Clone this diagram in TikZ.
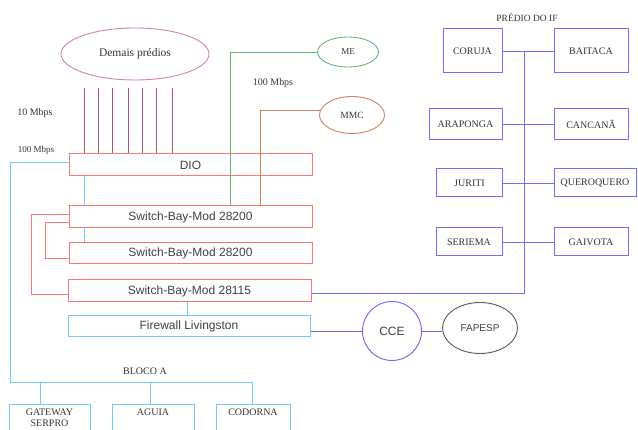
\documentclass[tikz,border=0pt]{standalone}
\usepackage{fontspec}
\setmainfont{Liberation Serif}
\newfontfamily\arialfont{Liberation Sans}
\usetikzlibrary{shapes.geometric}

\definecolor{swred}{RGB}{255,120,120}
\definecolor{lancyan}{RGB}{115,200,255}
\definecolor{ifblue}{RGB}{110,110,255}
\definecolor{megreen}{RGB}{95,185,115}
\definecolor{mmcbrown}{RGB}{210,130,90}
\definecolor{bldpink}{RGB}{215,130,165}
\definecolor{bldpurple}{RGB}{170,85,135}
\definecolor{ccecol}{RGB}{105,105,220}
\definecolor{fapcol}{RGB}{90,90,90}

\tikzset{
  serif/.style={font=\fontsize{10}{11}\selectfont, text=black!80},
  sans/.style={font=\arialfont\fontsize{12}{13}\selectfont, text=black!75},
  bar/.style={draw, line width=1pt, inner sep=0pt, sans},
  redbar/.style={bar, draw=swred, minimum width=243pt, minimum height=22pt},
  cyanbar/.style={bar, draw=lancyan, minimum width=242pt, minimum height=21pt},
  bird/.style={draw=ifblue, line width=1pt, inner sep=0pt, serif},
  bloco/.style={draw=lancyan, line width=1pt, inner sep=0pt, minimum height=45pt},
  wire/.style={line width=0.9pt},
}

\begin{document}
\begin{tikzpicture}[x=1pt,y=-1pt]
  \clip (0,0) rectangle (638,430);
  \fill[white] (0,0) rectangle (638,430);

  % other buildings, ME and MMC
  \node[ellipse, draw=bldpink, line width=0.9pt, minimum width=148pt, minimum height=52pt,
        inner sep=0pt, serif, font=\fontsize{11.5}{12}\selectfont] (demais) at (135,54) {Demais prédios};
  \node[ellipse, draw=megreen, line width=0.9pt, minimum width=61pt, minimum height=30pt,
        inner sep=0pt, serif, font=\fontsize{9}{10}\selectfont] (me) at (348,52) {ME};
  \node[ellipse, draw=mmcbrown, line width=0.9pt, minimum width=65pt, minimum height=37pt,
        inner sep=0pt, serif, font=\fontsize{9.5}{10}\selectfont] (mmc) at (352,115) {MMC};

  % core bars
  \node[redbar] (dio) at (190.5,165) {DIO};
  \node[redbar] (swa) at (190.5,217) {Switch-Bay-Mod 28200};
  \node[redbar, minimum height=21pt] (swb) at (190.5,253.5) {Switch-Bay-Mod 28200};
  \node[redbar] (swc) at (189.5,291) {Switch-Bay-Mod 28115};
  \node[cyanbar] (fw) at (189,326.5) {Firewall Livingston};

  % CCE and FAPESP
  \node[circle, draw=ccecol, line width=0.9pt, minimum size=59pt, inner sep=0pt, sans] (cce) at (392,331) {CCE};
  \node[ellipse, draw=fapcol, line width=0.9pt, minimum width=75pt, minimum height=51pt,
        inner sep=0pt, font=\arialfont\fontsize{10}{11}\selectfont, text=black!75] (fapesp) at (480,328) {FAPESP};

  % IF building
  \node[serif, font=\fontsize{9.5}{10}\selectfont] (predio) at (527,17) {PRÉDIO DO IF};
  \node[bird, minimum width=59pt, minimum height=44pt] (coruja) at (472.5,51) {CORUJA};
  \node[bird, minimum width=74pt, minimum height=44pt] (baitaca) at (591,51) {BAITACA};
  \node[bird, minimum width=73pt, minimum height=31pt] (araponga) at (465.5,124.5) {ARAPONGA};
  \node[bird, minimum width=74pt, minimum height=31pt] (cancana) at (591,124.5) {CANCANÃ};
  \node[bird, minimum width=66pt, minimum height=28pt] (juriti) at (469.5,183) {JURITI};
  \node[bird, minimum width=82pt, minimum height=28pt] (quero) at (595,183) {QUEROQUERO};
  \node[bird, minimum width=66pt, minimum height=28pt] (seriema) at (469,242) {SERIEMA};
  \node[bird, minimum width=74pt, minimum height=28pt] (gaivota) at (591,242) {GAIVOTA};

  % block A
  \node[serif] (blocoa) at (145,371) {BLOCO A};
  \node[bloco, minimum width=81pt] (gateway) at (49.5,427.5) {};
  \node[bloco, minimum width=82pt] (aguia) at (153,427.5) {};
  \node[bloco, minimum width=74pt] (codorna) at (253,427.5) {};
  \node[serif, align=center, anchor=north, inner sep=0pt, font=\fontsize{10}{11}\selectfont]
       (gwtext) at ([yshift=-4pt]gateway.north) {GATEWAY\\SERPRO};
  \node[serif, anchor=north, inner sep=0pt] (agtext) at ([yshift=-4pt]aguia.north) {AGUIA};
  \node[serif, anchor=north, inner sep=0pt] (cdtext) at ([yshift=-4pt]codorna.north) {CODORNA};

  % speed labels
  \node[serif] (l10) at (35,113) {10 Mbps};
  \node[serif, font=\fontsize{9}{10}\selectfont] (l100a) at (36,150) {100 Mbps};
  \node[serif] (l100b) at (273,83) {100 Mbps};

  % links from other buildings into the DIO
  \foreach \x [count=\i] in {84,98,112,128,142,156,172} {
    \coordinate (p\i) at (\x,88);
    \draw[wire, bldpurple] (p\i) -- (p\i |- dio.north);
  }

  % ME and MMC uplinks
  \coordinate (gx) at (230,0);
  \coordinate (bx) at (260,0);
  \draw[wire, megreen] (me.west) -| (swa.north -| gx);
  \draw[wire, mmcbrown] (mmc.172) -| (swa.north -| bx);

  % cyan backbone
  \coordinate (cx) at (84,0);
  \draw[wire, lancyan] (dio.south -| cx) -- (swa.north -| cx);
  \draw[wire, lancyan] (swa.south -| cx) -- (swb.north -| cx);
  \draw[wire, lancyan] (fw.north -| 187,0) -- (swc.south -| 187,0);

  % switch interconnections
  \draw[wire, swred] ([yshift=3pt]swa.west) -- ++(-37,0) |- ([yshift=-3pt]swc.west);
  \draw[wire, swred] ([yshift=-5pt]swa.west) -- ++(-23,0) |- ([yshift=-4.5pt]swb.west);

  % block A tree
  \coordinate (busL) at (10,382);
  \coordinate (busR) at (252,382);
  \draw[wire, lancyan] ([yshift=3pt]dio.west) -| (busL) -- (busR);
  \draw[wire, lancyan] (gateway.north -| 40,0) -- (busL -| 40,0);
  \draw[wire, lancyan] (aguia.north -| 150,0) -- (busL -| 150,0);
  \draw[wire, lancyan] (codorna.north -| busR) -- (busR);

  % IF building spine
  \coordinate (spine) at (524,0);
  \draw[wire, ifblue] ([yshift=-2pt]swc.east) -- ([yshift=-2pt]swc.east -| spine) -- (coruja.east -| spine);
  \draw[wire, ifblue] (coruja.east) -- (baitaca.west);
  \draw[wire, ifblue] (araponga.east) -- (cancana.west);
  \draw[wire, ifblue] (juriti.east) -- (quero.west);
  \draw[wire, ifblue] (seriema.east) -- (gaivota.west);

  % firewall to CCE to FAPESP
  \draw[wire, ccecol] (cce.west) -- (cce.west -| fw.east);
  \draw[wire, ccecol] (cce.east) -- (cce.east -| fapesp.west);
\end{tikzpicture}
\end{document}
